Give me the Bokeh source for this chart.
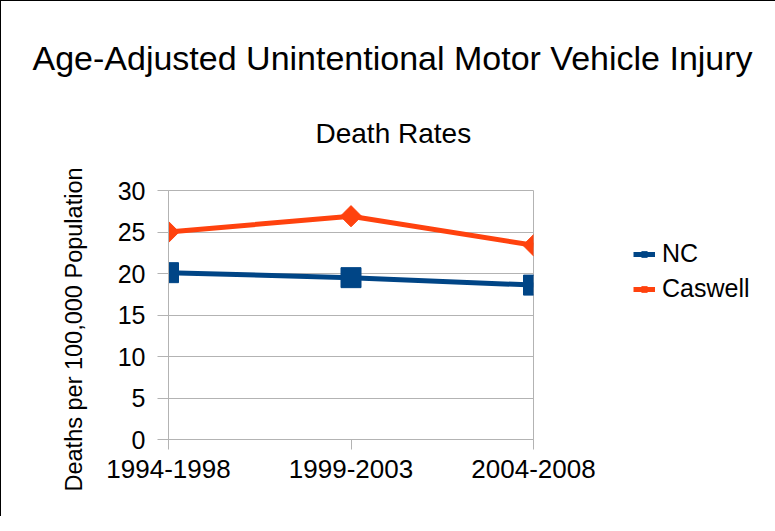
import math
from bokeh.plotting import figure
from bokeh.models import Range1d, FixedTicker, Title, Legend, LegendItem, ColumnDataSource
from bokeh.embed import file_html
from bokeh.resources import INLINE

periods = ["1994-1998", "1999-2003", "2004-2008"]
nc_rates = [20.1, 19.5, 18.6]
caswell_rates = [25.0, 26.9, 23.4]
y_ticks = [0, 5, 10, 15, 20, 25, 30]

FONT = "Liberation Sans"
BLUE = "#004586"
ORANGE = "#ff420e"
GRID = "#b3b3b3"

xs = list(range(len(periods)))
src = ColumnDataSource(dict(x=xs, nc=nc_rates, cas=caswell_rates))

p = figure(frame_width=365, frame_height=249, output_backend="svg", toolbar_location=None,
           x_range=Range1d(0, len(periods) - 1), y_range=Range1d(0, 30),
           min_border_left=167, min_border_right=227, min_border_top=189, min_border_bottom=77,
           title="Age-Adjusted Unintentional Motor Vehicle Injury")
p.styles = {"border-left": "1px solid black", "border-top": "1px solid black"}

p.outline_line_color = GRID
p.xgrid.grid_line_color = None
p.ygrid.grid_line_color = GRID
p.ygrid.ticker = FixedTicker(ticks=y_ticks)

p.xaxis.ticker = FixedTicker(ticks=xs)
p.xaxis.major_label_overrides = {i: s for i, s in enumerate(periods)}
p.yaxis.ticker = FixedTicker(ticks=y_ticks)
for ax in (p.xaxis[0], p.yaxis[0]):
    ax.axis_line_color = GRID
    ax.major_tick_line_color = GRID
    ax.major_tick_in = 0
    ax.minor_tick_line_color = None
    ax.major_label_text_font = FONT
    ax.major_label_text_color = "black"
p.xaxis.major_tick_out = 10
p.xaxis.major_label_text_font_size = "26px"
p.xaxis.major_label_standoff = 10
p.yaxis.major_tick_out = 11
p.yaxis.major_label_text_font_size = "25px"
p.yaxis.major_label_standoff = 12

r_nc_l = p.line("x", "nc", source=src, line_color=BLUE, line_width=5)
r_nc_m = p.scatter("x", "nc", source=src, marker="square", size=20, fill_color=BLUE, line_color=BLUE)
r_ca_l = p.line("x", "cas", source=src, line_color=ORANGE, line_width=5)
r_ca_m = p.scatter("x", "cas", source=src, marker="square", angle=math.pi / 4, size=15,
                   fill_color=ORANGE, line_color=ORANGE)

legend = Legend(items=[LegendItem(label="NC", renderers=[r_nc_l, r_nc_m]),
                       LegendItem(label="Caswell", renderers=[r_ca_l, r_ca_m])],
                location=(100, 136), border_line_color=None, background_fill_alpha=0,
                label_text_font=FONT, label_text_font_size="25px", label_text_color="black",
                glyph_width=22, glyph_height=14, label_standoff=7, spacing=6,
                padding=0, margin=0)
p.add_layout(legend, "right")

p.title.text_font = FONT
p.title.text_font_size = "34px"
p.title.text_font_style = "normal"
p.title.text_color = "black"
p.title.align = "left"
p.title.offset = -136
p.title.standoff = -6
p.add_layout(Title(text="Death Rates", text_font=FONT, text_font_size="28px",
                   text_font_style="normal", text_color="black",
                   align="left", offset=147, standoff=84), "above")
p.add_layout(Title(text="Deaths per 100,000 Population", text_font=FONT,
                   text_font_size="23.5px", text_font_style="normal", text_color="black",
                   align="left", offset=-52, standoff=56), "left")

open("out.html", "w").write(file_html(p, INLINE))
